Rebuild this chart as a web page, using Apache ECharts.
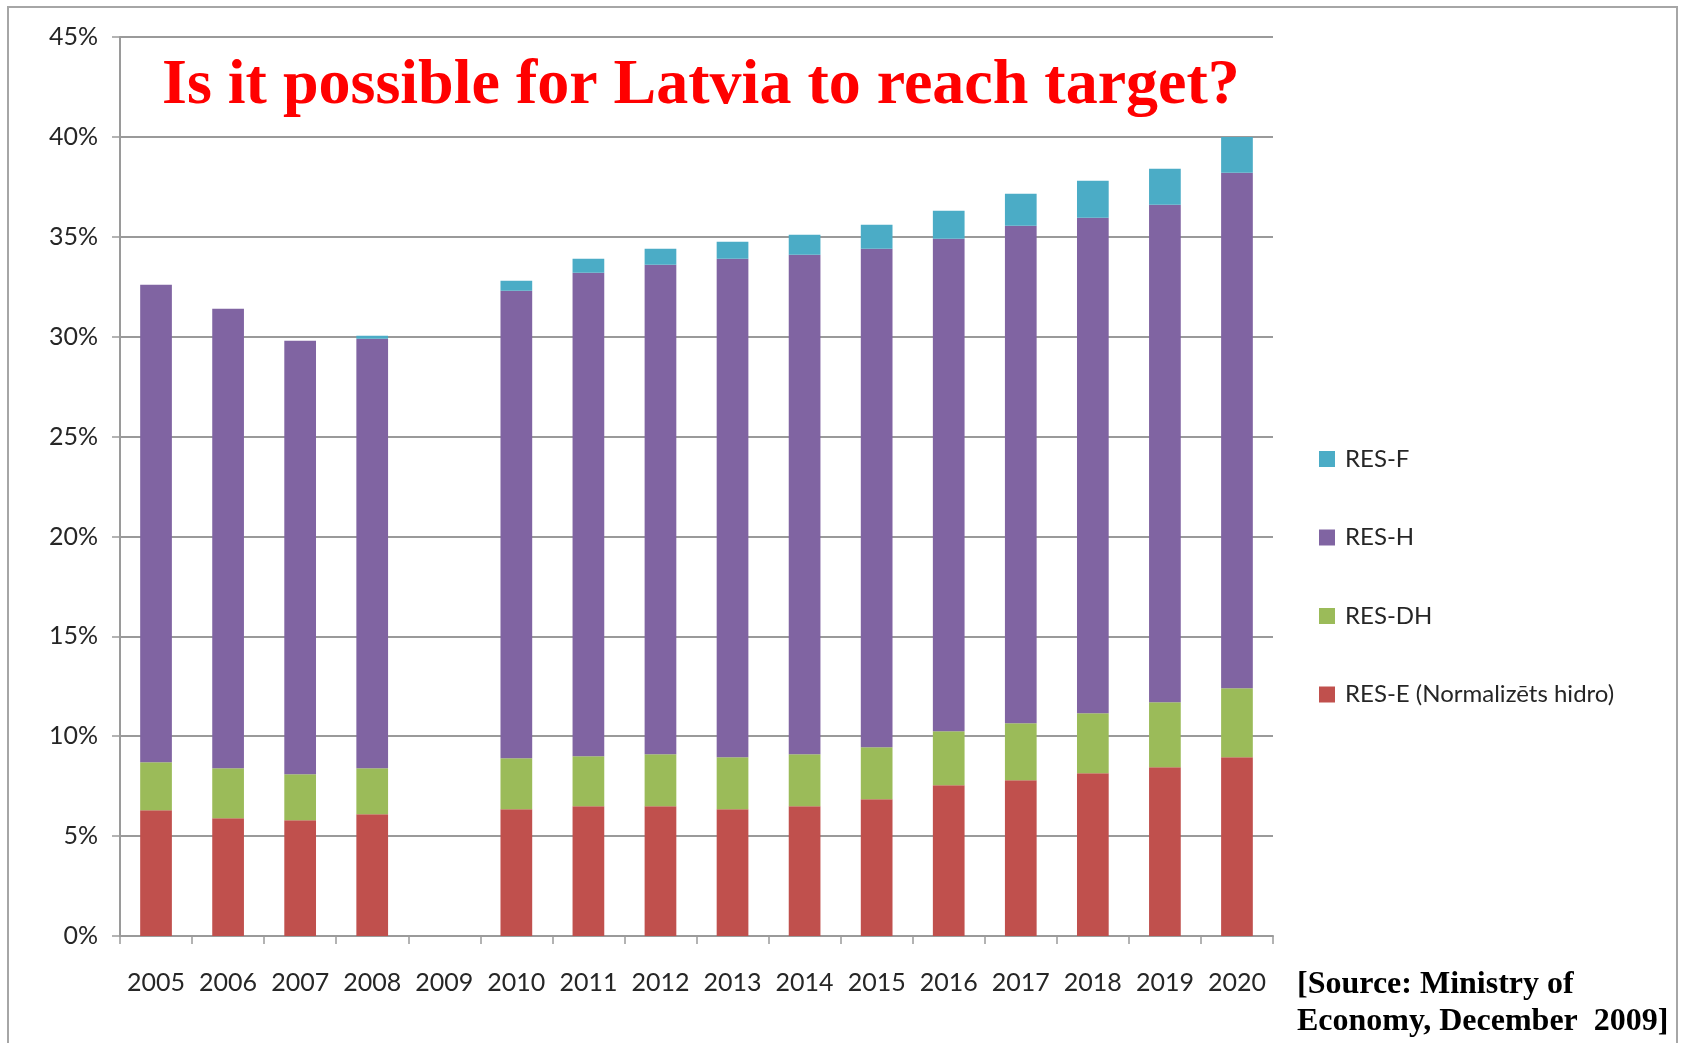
<!DOCTYPE html>
<html>
<head>
<meta charset="utf-8">
<title>Is it possible for Latvia to reach target?</title>
<script src="https://cdn.jsdelivr.net/npm/echarts@6/dist/echarts.min.js"></script>
<style>
  html, body { margin: 0; padding: 0; background: #ffffff; }
  #chart { width: 1681px; height: 1043px; }
</style>
</head>
<body>
<div id="chart"></div>
<script>
// Years on the category axis (2009 has no data)
const years = ['2005','2006','2007','2008','2009','2010','2011','2012','2013','2014','2015','2016','2017','2018','2019','2020'];

// Share of renewable energy by sector, % (segment sizes, stacked bottom to top)
const resE  = [6.3, 5.9, 5.8, 6.1, null, 6.35, 6.5, 6.5, 6.35, 6.5, 6.85, 7.55, 7.8, 8.15, 8.45, 8.95];
const resDH = [2.4, 2.5, 2.3, 2.3, null, 2.55, 2.5, 2.6, 2.6, 2.6, 2.6, 2.7, 2.85, 3.0, 3.25, 3.45];
const resH  = [23.9, 23.0, 21.7, 21.5, null, 23.4, 24.2, 24.5, 24.95, 25.0, 24.95, 24.65, 24.9, 24.8, 24.9, 25.8];
const resF  = [0, 0, 0, 0.15, null, 0.5, 0.7, 0.8, 0.85, 1.0, 1.2, 1.4, 1.6, 1.85, 1.8, 1.8];

const seriesNames = ['RES-E (Normalizēts hidro)', 'RES-DH', 'RES-H', 'RES-F'];
const seriesColors = ['#C0504D', '#9BBB59', '#8064A2', '#4BACC6'];
const seriesData = [resE, resDH, resH, resF];

// Y axis ticks: 0% .. 45% by 5%
const yMin = 0, yMax = 45, yStep = 5;

const titleText = 'Is it possible for Latvia to reach target?';
const sourceText = '[Source: Ministry of\nEconomy, December  2009]';

const labelFont = 'Lato, "Open Sans", sans-serif';
const labelColor = '#262626';
const gridColor = '#9a9a9a';

const chart = echarts.init(document.getElementById('chart'), null, { renderer: 'canvas' });

const option = {
  backgroundColor: '#ffffff',
  animation: false,
  title: {
    text: titleText,
    left: 162,
    top: 54,
    padding: 0,
    textStyle: {
      fontFamily: '"Liberation Serif", "Times New Roman", serif',
      fontWeight: 'bold',
      fontSize: 64,
      color: '#ff0000'
    }
  },
  legend: {
    orient: 'vertical',
    left: 1319,
    top: 447,
    padding: 0,
    itemWidth: 16,
    itemHeight: 16,
    itemGap: 54.5,
    icon: 'rect',
    data: ['RES-F', 'RES-H', 'RES-DH', 'RES-E (Normalizēts hidro)'],
    textStyle: {
      fontFamily: labelFont,
      fontSize: 24,
      lineHeight: 23,
      color: labelColor,
      padding: [0, 0, 0, 5]
    }
  },
  grid: {
    left: 120,
    top: 37,
    right: 408,
    bottom: 107,
    containLabel: false
  },
  xAxis: {
    type: 'category',
    data: years,
    axisLine: { show: true, lineStyle: { color: gridColor, width: 2 } },
    axisTick: { show: true, alignWithLabel: false, length: 8, lineStyle: { color: gridColor, width: 1.5 } },
    axisLabel: {
      interval: 0,
      margin: 34,
      fontFamily: labelFont,
      fontSize: 25,
      color: labelColor
    }
  },
  yAxis: {
    type: 'value',
    min: yMin,
    max: yMax,
    interval: yStep,
    axisLine: { show: true, lineStyle: { color: gridColor, width: 2 } },
    axisTick: { show: true, length: 8, lineStyle: { color: gridColor, width: 1.5 } },
    splitLine: { show: true, lineStyle: { color: gridColor, width: 2 } },
    axisLabel: {
      margin: 22,
      formatter: '{value}%',
      fontFamily: labelFont,
      fontSize: 25,
      color: labelColor
    }
  },
  series: seriesNames.map((name, i) => ({
    name: name,
    type: 'bar',
    stack: 'total',
    barWidth: '44%',
    data: seriesData[i],
    itemStyle: { color: seriesColors[i] },
    emphasis: { disabled: true }
  })),
  graphic: [
    {
      type: 'rect',
      silent: true,
      shape: { x: 8, y: 7, width: 1669, height: 1100 },
      style: { fill: 'none', stroke: '#a6a6a6', lineWidth: 2 }
    },
    {
      type: 'text',
      left: 1297,
      top: 966,
      silent: true,
      style: {
        text: sourceText,
        font: 'bold 32px "Liberation Serif", "Times New Roman", serif',
        lineHeight: 37,
        fill: '#000000'
      }
    }
  ]
};

chart.setOption(option);
</script>
</body>
</html>
